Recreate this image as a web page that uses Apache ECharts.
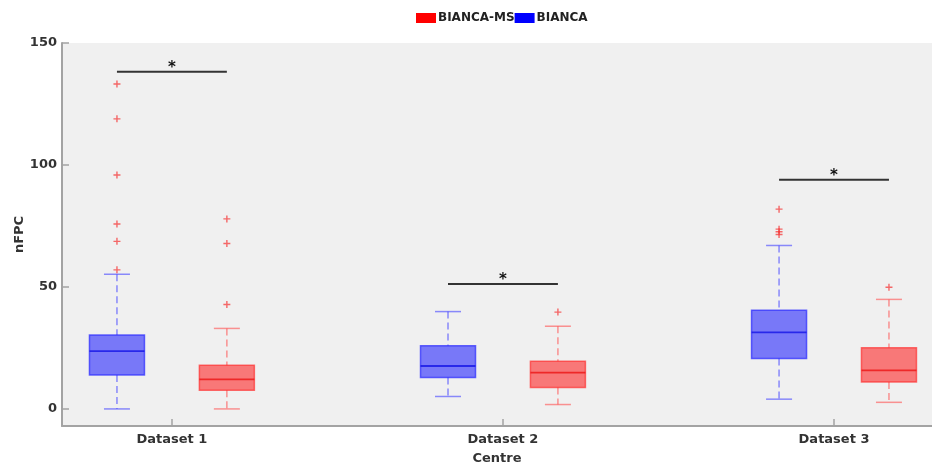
<!DOCTYPE html>
<html>
<head>
<meta charset="utf-8">
<script src="https://cdn.jsdelivr.net/npm/echarts@6/dist/echarts.min.js"></script>
<style>
  html, body { margin: 0; padding: 0; background: #ffffff; }
  #chart { width: 932px; height: 468px; }
</style>
</head>
<body>
<div id="chart"></div>
<script>
// Centres on the x axis
const categories = ['Dataset 1', 'Dataset 2', 'Dataset 3'];

// Box statistics per centre: [lower whisker, Q1, median, Q3, upper whisker]
const biancaBoxes = [
  [0.0, 13.9, 23.7, 30.3, 55.2],
  [5.1, 12.9, 17.6, 25.9, 39.9],
  [4.0, 20.7, 31.4, 40.4, 67.0]
];
const biancaMsBoxes = [
  [0.0, 7.7, 12.1, 17.9, 33.0],
  [1.8, 8.8, 14.9, 19.5, 33.9],
  [2.7, 11.0, 15.8, 25.1, 44.9]
];

// Outlying values per centre
const biancaOutliers = [
  [133.2, 118.9, 95.9, 75.8, 68.7, 57.0],
  [],
  [81.9, 73.7, 72.6, 71.5]
];
const biancaMsOutliers = [
  [77.9, 67.8, 42.8],
  [39.7],
  [49.9]
];

// Height of the significance bar above each centre
const sigLevels = [138.2, 51.2, 93.9];

// Y axis tick labels
const yTicks = [0, 50, 100, 150];

const FONT = 'DejaVu Sans';
const TEXT = '#333333';
const AXIS = '#a3a3a3';
const OFFSET = 0.166;      // distance of each box from the centre position (axis units)
const BOX_HALF = 27.5;     // half box width in px
const CAP_HALF = 13;       // half whisker-cap width in px

const chart = echarts.init(document.getElementById('chart'), null, { renderer: 'canvas' });

function boxSeries(name, boxes, side, colors) {
  return {
    type: 'custom',
    name: name,
    silent: true,
    itemStyle: { color: colors.legend },
    data: boxes.map((b, i) => [i + 1 + side * OFFSET].concat(b)),
    encode: { x: 0, y: [1, 2, 3, 4, 5] },
    renderItem(params, api) {
      const x = api.value(0);
      const pt = k => api.coord([x, api.value(k)]);
      const lo = pt(1), q1 = pt(2), md = pt(3), q3 = pt(4), hi = pt(5);
      const cx = lo[0];
      const dash = { stroke: colors.whisker, lineWidth: 1.5, lineDash: [7, 4] };
      const cap = { stroke: colors.whisker, lineWidth: 1.5 };
      return {
        type: 'group',
        children: [
          { type: 'line', shape: { x1: cx, y1: hi[1], x2: cx, y2: q3[1] }, style: dash },
          { type: 'line', shape: { x1: cx, y1: q1[1], x2: cx, y2: lo[1] }, style: dash },
          { type: 'line', shape: { x1: cx - CAP_HALF, y1: hi[1], x2: cx + CAP_HALF, y2: hi[1] }, style: cap },
          { type: 'line', shape: { x1: cx - CAP_HALF, y1: lo[1], x2: cx + CAP_HALF, y2: lo[1] }, style: cap },
          {
            type: 'rect',
            shape: { x: cx - BOX_HALF, y: q3[1], width: 2 * BOX_HALF, height: q1[1] - q3[1] },
            style: { fill: colors.fill, stroke: colors.edge, lineWidth: 1.5 }
          },
          {
            type: 'line',
            shape: { x1: cx - BOX_HALF, y1: md[1], x2: cx + BOX_HALF, y2: md[1] },
            style: { stroke: colors.median, lineWidth: 1.8 }
          }
        ]
      };
    }
  };
}

function outlierData(lists, side) {
  const out = [];
  lists.forEach((vals, i) => vals.forEach(v => out.push([i + 1 + side * OFFSET, v])));
  return out;
}

const blue = {
  legend: '#0000ff',
  fill: 'rgba(0,0,255,0.5)',
  edge: 'rgba(40,40,255,0.7)',
  median: 'rgba(20,20,230,0.8)',
  whisker: 'rgba(80,80,255,0.65)'
};
const red = {
  legend: '#ff0000',
  fill: 'rgba(255,0,0,0.5)',
  edge: 'rgba(255,40,40,0.65)',
  median: 'rgba(235,20,20,0.8)',
  whisker: 'rgba(255,80,80,0.6)'
};

const option = {
  animation: false,
  backgroundColor: '#ffffff',
  textStyle: { fontFamily: FONT },
  legend: {
    data: ['BIANCA-MS', 'BIANCA'],
    left: 411,
    top: 7,
    icon: 'rect',
    itemWidth: 20,
    itemHeight: 10,
    itemGap: 0,
    selectedMode: false,
    textStyle: { fontFamily: FONT, fontWeight: 'bold', fontSize: 12, color: '#222', padding: [0, 0, 0, -3] }
  },
  grid: {
    left: 62, right: 0, top: 43, bottom: 42,
    outerBoundsMode: 'none',
    containLabel: false,
    show: true, backgroundColor: '#f0f0f0', borderWidth: 0
  },
  xAxis: {
    type: 'value',
    min: 0.668,
    max: 3.296,
    name: 'Centre',
    nameLocation: 'middle',
    nameGap: 26,
    nameTextStyle: { fontFamily: FONT, fontWeight: 'bold', fontSize: 13, color: TEXT },
    axisLine: { show: true, onZero: false, lineStyle: { color: AXIS, width: 2 } },
    axisTick: { show: true, inside: true, length: 7, customValues: [1, 2, 3], lineStyle: { color: AXIS, width: 1.5 } },
    axisLabel: {
      customValues: [1, 2, 3],
      margin: 7,
      fontFamily: FONT, fontWeight: 'bold', fontSize: 13, color: TEXT,
      formatter: v => categories[Math.round(v) - 1]
    },
    splitLine: { show: false }
  },
  yAxis: {
    type: 'value',
    min: -7,
    max: 150,
    name: 'nFPC',
    nameLocation: 'middle',
    nameGap: 36,
    nameMoveOverlap: false,
    nameRotate: 90,
    nameTextStyle: { fontFamily: FONT, fontWeight: 'bold', fontSize: 13, color: TEXT },
    axisLine: { show: true, onZero: false, lineStyle: { color: AXIS, width: 2 } },
    axisTick: { show: true, inside: true, length: 7, customValues: yTicks, lineStyle: { color: AXIS, width: 1.5 } },
    axisLabel: {
      customValues: yTicks,
      margin: 5,
      fontFamily: FONT, fontWeight: 'bold', fontSize: 13, color: TEXT
    },
    splitLine: { show: false }
  },
  series: [
    boxSeries('BIANCA', biancaBoxes, -1, blue),
    boxSeries('BIANCA-MS', biancaMsBoxes, 1, red),
    {
      type: 'scatter',
      name: 'outliers',
      silent: true,
      symbol: 'path://M3,0h1.5v3h3v1.5h-3v3h-1.5v-3h-3v-1.5h3z',
      symbolSize: 7,
      itemStyle: { color: 'rgba(245,50,50,0.9)' },
      data: outlierData(biancaOutliers, -1).concat(outlierData(biancaMsOutliers, 1))
    },
    {
      type: 'custom',
      name: 'significance',
      silent: true,
      data: sigLevels.map((v, i) => [i + 1, v]),
      encode: { x: 0, y: 1 },
      renderItem(params, api) {
        const x = api.value(0), v = api.value(1);
        const a = api.coord([x - OFFSET, v]);
        const b = api.coord([x + OFFSET, v]);
        const c = api.coord([x, v]);
        return {
          type: 'group',
          children: [
            { type: 'line', shape: { x1: a[0], y1: a[1], x2: b[0], y2: b[1] }, style: { stroke: '#333', lineWidth: 2 } },
            {
              type: 'text',
              style: {
                x: c[0], y: c[1] - 4,
                text: '*',
                fill: '#111',
                font: 'bold 15px "DejaVu Sans"',
                align: 'center',
                verticalAlign: 'middle'
              }
            }
          ]
        };
      }
    }
  ]
};

chart.setOption(option);
</script>
</body>
</html>
